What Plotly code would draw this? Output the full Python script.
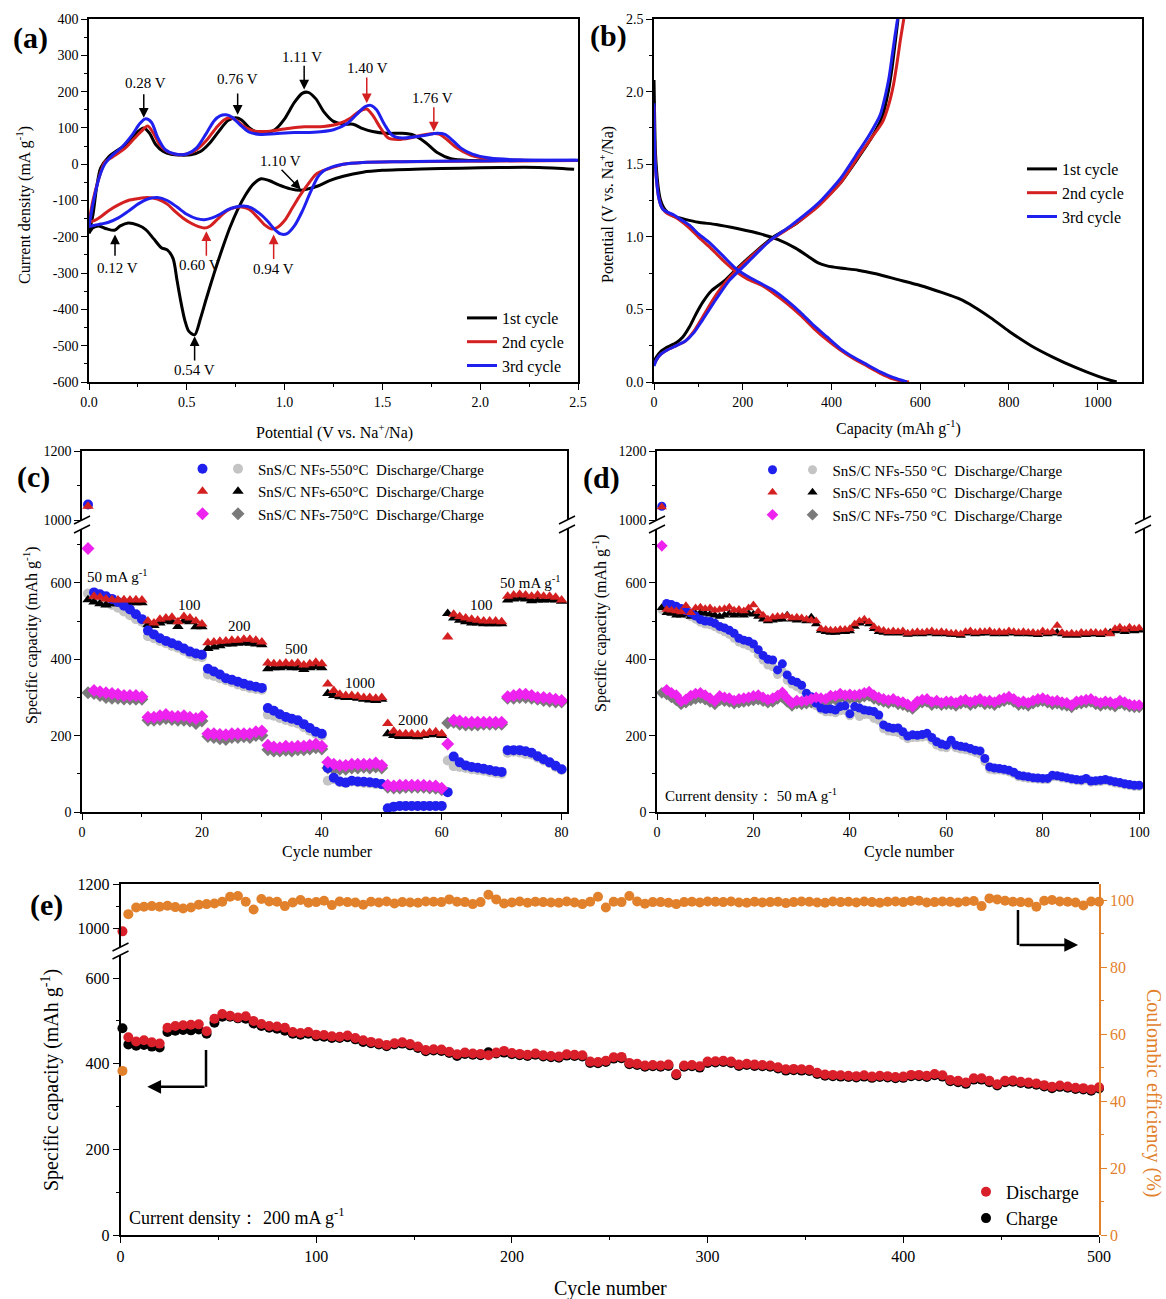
import plotly.graph_objects as go

W, H = 1166, 1299
FONT = "Liberation Serif, Times New Roman, serif"

def px(x):
    return x / W

def py(y):
    return 1 - y / H

# ---------------- (a) CV data ----------------
cv1_cat_v = [2.48, 2.3, 2.1, 1.9, 1.7, 1.5, 1.4, 1.3, 1.23, 1.17, 1.12, 1.08, 1.03, 0.97, 0.92, 0.88, 0.84, 0.8, 0.76, 0.72,
             0.68, 0.64, 0.6, 0.57, 0.54, 0.51, 0.49, 0.47, 0.45, 0.43, 0.4, 0.37, 0.33, 0.29, 0.25, 0.2, 0.16, 0.13, 0.09, 0.05, 0.02, 0.0]
cv1_cat_i = [-14, -9, -9, -11, -13, -17, -22, -33, -45, -60, -68, -72, -68, -57, -45, -40, -55, -85, -125, -175,
             -235, -300, -370, -425, -470, -460, -430, -380, -320, -260, -236, -230, -205, -180, -168, -162, -170, -182, -178, -170, -175, -190]
cv1_an_v = [0.0, 0.02, 0.04, 0.06, 0.1, 0.15, 0.2, 0.25, 0.28, 0.31, 0.34, 0.38, 0.42, 0.47, 0.52, 0.57, 0.62, 0.67, 0.71, 0.75,
            0.78, 0.82, 0.86, 0.9, 0.95, 1.0, 1.05, 1.09, 1.12, 1.16, 1.2, 1.25, 1.3, 1.35, 1.4, 1.45, 1.52, 1.6, 1.66, 1.72,
            1.78, 1.85, 1.95, 2.1, 2.3, 2.5]
cv1_an_i = [-190, -140, -60, -10, 20, 40, 58, 90, 100, 85, 55, 35, 27, 25, 26, 35, 60, 95, 120, 128,
            122, 100, 88, 85, 95, 125, 170, 195, 198, 180, 145, 118, 110, 110, 98, 90, 85, 85, 80, 60,
            32, 15, 10, 10, 10, 10]

cv2_cat_v = [2.5, 2.2, 1.9, 1.6, 1.4, 1.3, 1.24, 1.2, 1.16, 1.12, 1.08, 1.04, 1.0, 0.96, 0.93, 0.9, 0.86, 0.82, 0.78, 0.74,
             0.7, 0.66, 0.62, 0.59, 0.56, 0.52, 0.48, 0.44, 0.4, 0.35, 0.3, 0.25, 0.2, 0.15, 0.1, 0.06, 0.03, 0.0]
cv2_cat_i = [10, 9, 8, 7, 5, 0, -10, -17, -28, -55, -85, -120, -155, -175, -178, -168, -145, -125, -118, -120,
             -130, -150, -170, -176, -172, -162, -148, -130, -110, -96, -92, -95, -100, -112, -128, -145, -155, -160]
cv2_an_v = [0.0, 0.02, 0.05, 0.08, 0.12, 0.18, 0.23, 0.27, 0.3, 0.33, 0.36, 0.4, 0.45, 0.5, 0.55, 0.6, 0.65, 0.69, 0.72, 0.75,
            0.79, 0.84, 0.9, 1.0, 1.1, 1.2, 1.28, 1.34, 1.38, 1.42, 1.45, 1.49, 1.53, 1.58, 1.64, 1.7, 1.75, 1.79, 1.83, 1.88,
            1.95, 2.05, 2.2, 2.5]
cv2_an_i = [-160, -100, -40, 5, 20, 42, 70, 92, 105, 85, 55, 35, 27, 28, 40, 65, 100, 122, 128, 122,
            105, 92, 90, 97, 103, 104, 112, 128, 145, 152, 135, 100, 72, 68, 72, 80, 84, 83, 68, 45,
            25, 14, 11, 10]

cv3_cat_v = [2.5, 2.2, 1.9, 1.6, 1.4, 1.3, 1.24, 1.2, 1.17, 1.13, 1.09, 1.05, 1.01, 0.98, 0.95, 0.91, 0.87, 0.83, 0.79, 0.75,
             0.71, 0.67, 0.63, 0.59, 0.55, 0.5, 0.45, 0.4, 0.35, 0.3, 0.25, 0.2, 0.15, 0.1, 0.06, 0.03, 0.0]
cv3_cat_i = [11, 10, 9, 7, 5, 0, -8, -18, -35, -80, -130, -170, -192, -192, -180, -155, -135, -120, -115, -118,
             -125, -138, -148, -153, -150, -138, -118, -100, -92, -96, -110, -130, -148, -160, -165, -168, -172]
cv3_an_v = [0.0, 0.02, 0.05, 0.08, 0.12, 0.17, 0.22, 0.26, 0.29, 0.32, 0.35, 0.39, 0.44, 0.5, 0.55, 0.6, 0.64, 0.67, 0.7, 0.73,
            0.77, 0.82, 0.88, 0.95, 1.05, 1.15, 1.25, 1.32, 1.37, 1.41, 1.44, 1.47, 1.51, 1.55, 1.6, 1.66, 1.72, 1.78, 1.82, 1.86,
            1.9, 1.96, 2.05, 2.2, 2.5]
cv3_an_i = [-172, -110, -40, 0, 25, 48, 80, 112, 125, 115, 75, 40, 28, 28, 45, 85, 120, 133, 136, 130,
            110, 88, 82, 84, 87, 88, 95, 112, 138, 158, 162, 150, 110, 80, 72, 75, 80, 85, 82, 65,
            45, 28, 17, 12, 11]

# ---------------- (b) charge/discharge profiles ----------------
gc1_dis_cap = [0, 1, 3, 6, 10, 15, 22, 30, 45, 70, 100, 140, 190, 240, 280, 320, 350, 370, 390, 420,
               460, 500, 550, 600, 650, 690, 720, 760, 800, 850, 900, 950, 1000, 1030, 1043]
gc1_dis_v = [2.08, 1.9, 1.6, 1.45, 1.33, 1.25, 1.2, 1.17, 1.14, 1.12, 1.1, 1.085, 1.055, 1.02, 0.98, 0.92, 0.86, 0.82, 0.8, 0.785,
             0.77, 0.745, 0.705, 0.665, 0.615, 0.57, 0.52, 0.44, 0.35, 0.25, 0.17, 0.1, 0.04, 0.01, 0.0]
gc1_chg_cap = [0, 5, 15, 30, 50, 65, 80, 95, 110, 130, 160, 190, 230, 270, 320, 370, 420, 455, 490, 515, 528, 536, 543, 550]
gc1_chg_v = [0.14, 0.17, 0.21, 0.24, 0.27, 0.31, 0.38, 0.47, 0.55, 0.63, 0.7, 0.79, 0.9, 1.0, 1.09, 1.22, 1.37, 1.52, 1.68, 1.83,
             2.0, 2.15, 2.32, 2.5]
gc2_dis_cap = [0, 1, 3, 6, 10, 15, 20, 30, 45, 60, 80, 100, 125, 155, 185, 210, 240, 270, 300, 330,
               360, 390, 420, 450, 480, 510, 540, 560, 575]
gc2_dis_v = [1.9, 1.7, 1.5, 1.38, 1.28, 1.22, 1.19, 1.16, 1.14, 1.11, 1.06, 1.0, 0.93, 0.84, 0.76, 0.71, 0.67, 0.61, 0.54, 0.46,
             0.37, 0.29, 0.22, 0.16, 0.11, 0.06, 0.02, 0.005, 0.0]
gc2_chg_cap = [0, 5, 15, 30, 50, 70, 90, 110, 140, 170, 210, 260, 310, 370, 420, 460, 490, 515, 530, 540, 548, 555, 563]
gc2_chg_v = [0.12, 0.15, 0.19, 0.22, 0.25, 0.28, 0.35, 0.45, 0.6, 0.72, 0.84, 0.97, 1.07, 1.21, 1.37, 1.55, 1.68, 1.79, 1.92, 2.05,
             2.2, 2.35, 2.5]
gc3_dis_cap = [0, 1, 3, 6, 10, 15, 20, 30, 45, 60, 80, 100, 125, 155, 185, 210, 240, 270, 300, 330,
               360, 390, 420, 450, 480, 510, 540, 560, 570]
gc3_dis_v = [1.92, 1.7, 1.5, 1.38, 1.28, 1.22, 1.19, 1.17, 1.15, 1.12, 1.08, 1.02, 0.96, 0.87, 0.78, 0.73, 0.68, 0.63, 0.56, 0.48,
             0.39, 0.31, 0.23, 0.17, 0.12, 0.07, 0.03, 0.01, 0.0]
gc3_chg_cap = [0, 5, 15, 30, 50, 70, 90, 110, 140, 170, 210, 260, 310, 370, 420, 455, 485, 510, 522, 530, 537, 543, 549]
gc3_chg_v = [0.11, 0.15, 0.19, 0.22, 0.25, 0.28, 0.34, 0.43, 0.57, 0.7, 0.82, 0.97, 1.08, 1.23, 1.4, 1.56, 1.7, 1.84, 1.98, 2.1,
             2.25, 2.38, 2.5]

# ---------------- (c) rate performance ----------------
cycles_c = list(range(1, 81))
c_550_dis = [1045, 575, 570, 565, 558, 550, 540, 530, 518, 505,
             475, 465, 455, 448, 442, 436, 428, 420, 415, 412,
             375, 368, 360, 350, 346, 341, 336, 331, 328, 325,
             272, 265, 256, 249, 244, 240, 230, 220, 210, 205,
             115, 90, 80, 77, 82, 80, 79, 78, 76, 73,
             10, 14, 16, 16, 16, 16, 16, 16, 16, 16,
             52, 145, 130, 122, 118, 116, 113, 110, 107, 105,
             162, 162, 162, 159, 155, 146, 138, 130, 121, 112]
c_550_chg = [572, 562, 556, 548, 542, 535, 525, 515, 505, 498,
             460, 455, 448, 442, 435, 430, 422, 414, 408, 405,
             360, 356, 350, 345, 340, 334, 329, 325, 322, 320,
             255, 252, 246, 241, 236, 232, 222, 213, 205, 200,
             82, 86, 78, 76, 80, 78, 76, 75, 73, 72,
             8, 13, 15, 15, 15, 15, 15, 15, 15, 15,
             135, 120, 118, 115, 112, 110, 108, 105, 102, 100,
             155, 158, 156, 152, 150, 142, 135, 128, 118, 110]
c_650_dis = [1040, 565, 562, 558, 556, 555, 556, 555, 556, 555,
             500, 495, 505, 508, 510, 498, 512, 508, 500, 492,
             443, 445, 447, 448, 450, 450, 452, 452, 450, 445,
             390, 388, 388, 390, 388, 390, 385, 388, 392, 388,
             335, 318, 308, 305, 305, 303, 300, 300, 298, 300,
             232, 212, 205, 205, 205, 203, 205, 208, 210, 205,
             458, 518, 512, 508, 505, 502, 500, 500, 500, 498,
             565, 568, 570, 568, 565, 568, 565, 565, 562, 555]
c_650_chg = [556, 550, 545, 542, 545, 545, 545, 548, 548, 548,
             490, 488, 495, 500, 498, 486, 500, 498, 485, 485,
             428, 432, 435, 440, 440, 442, 443, 442, 440, 438,
             375, 378, 378, 380, 378, 378, 373, 378, 380, 378,
             310, 305, 302, 300, 300, 298, 295, 293, 292, 295,
             205, 200, 198, 198, 198, 197, 200, 202, 203, 200,
             520, 508, 502, 498, 495, 495, 493, 493, 493, 493,
             555, 558, 560, 558, 553, 555, 555, 556, 555, 552]
c_750_dis = [690, 318, 315, 312, 310, 308, 305, 305, 305, 302,
             248, 248, 252, 255, 250, 250, 252, 248, 245, 250,
             205, 205, 203, 202, 205, 205, 205, 205, 210, 212,
             175, 170, 168, 172, 170, 172, 172, 175, 178, 172,
             130, 125, 122, 122, 125, 125, 125, 125, 128, 122,
             70, 68, 70, 70, 70, 70, 70, 68, 68, 62,
             178, 240, 238, 235, 235, 235, 235, 235, 235, 235,
             302, 305, 308, 308, 305, 300, 300, 298, 295, 292]
c_750_chg = [312, 310, 305, 300, 298, 298, 296, 296, 295, 295,
             240, 240, 242, 245, 242, 240, 240, 238, 232, 238,
             198, 195, 192, 190, 195, 195, 197, 195, 200, 200,
             163, 160, 160, 162, 160, 163, 163, 165, 168, 165,
             115, 112, 112, 112, 115, 115, 117, 115, 118, 115,
             65, 63, 63, 65, 65, 65, 65, 63, 62, 58,
             233, 235, 230, 228, 228, 228, 230, 230, 230, 230,
             298, 298, 300, 300, 298, 295, 292, 290, 288, 288]
rate_labels = ["50 mA g<sup>-1</sup>", "100", "200", "500", "1000", "2000", "100", "50 mA g<sup>-1</sup>"]
rate_label_x = [5.8, 17.9, 26.3, 35.8, 46.4, 55.2, 66.7, 74.8]
rate_label_y = [617, 543, 486, 427, 339, 241, 543, 602]

# ---------------- (d) cycling at 50 mA/g ----------------
cycles_d = list(range(1, 101))
d_550_dis = [1040, 546, 543, 539, 533, 527, 521, 513, 504, 500,
             499, 494, 486, 482, 476, 468, 455, 450, 447, 440,
             425, 410, 400, 398, 372, 388, 359, 344, 340, 332,
             311, 302, 285, 272, 269, 270, 267, 276, 278, 257,
             276, 272, 267, 265, 263, 254, 228, 222, 219, 220,
             210, 199, 202, 201, 203, 206, 195, 184, 178, 175,
             188, 175, 172, 170, 166, 162, 160, 140, 118, 115,
             114, 112, 109, 104, 96, 94, 92, 90, 89, 88,
             88, 96, 95, 92, 90, 87, 85, 84, 88, 81,
             82, 83, 85, 82, 79, 77, 74, 72, 70, 70]
d_550_chg = [530, 538, 535, 530, 525, 518, 512, 505, 497, 492,
             490, 485, 478, 472, 465, 455, 445, 440, 435, 428,
             412, 398, 385, 380, 360, 368, 345, 335, 328, 320,
             300, 292, 278, 268, 262, 262, 260, 265, 266, 252,
             262, 250, 255, 255, 245, 240, 218, 212, 210, 208,
             200, 192, 195, 195, 196, 198, 188, 175, 170, 168,
             178, 168, 165, 163, 160, 156, 152, 132, 112, 110,
             110, 108, 105, 100, 92, 90, 88, 87, 86, 85,
             85, 92, 92, 89, 87, 84, 82, 81, 84, 78,
             79, 80, 82, 79, 76, 74, 71, 69, 67, 67]
d_650_dis = [1038, 530, 528, 526, 524, 540, 522, 534, 536, 532,
             534, 528, 530, 532, 536, 528, 530, 526, 534, 542,
             525, 515, 505, 510, 512, 512, 514, 508, 510, 508,
             505, 502, 500, 480, 478, 476, 476, 478, 478, 480,
             492, 500, 505, 498, 485, 478, 475, 472, 474, 472,
             474, 468, 470, 472, 470, 472, 474, 470, 472, 470,
             468, 468, 466, 472, 474, 470, 472, 472, 474, 470,
             472, 470, 474, 472, 470, 472, 470, 470, 468, 474,
             470, 472, 488, 470, 466, 468, 466, 470, 468, 470,
             470, 468, 472, 466, 480, 484, 478, 484, 480, 482]
d_650_chg = [535, 522, 520, 515, 515, 518, 512, 520, 522, 520,
             518, 515, 512, 515, 520, 515, 518, 515, 520, 518,
             512, 505, 500, 502, 505, 505, 515, 505, 502, 505,
             500, 510, 492, 475, 472, 470, 470, 472, 472, 474,
             486, 494, 498, 492, 480, 472, 470, 468, 470, 468,
             470, 465, 466, 468, 466, 468, 470, 466, 468, 466,
             465, 464, 462, 468, 470, 466, 468, 468, 470, 466,
             468, 466, 470, 468, 466, 468, 466, 466, 464, 470,
             466, 468, 470, 466, 462, 464, 462, 466, 464, 466,
             466, 464, 468, 470, 474, 476, 472, 476, 474, 476]
d_750_dis = [697, 320, 312, 306, 290, 295, 305, 310, 312, 306,
             298, 290, 304, 300, 298, 292, 296, 298, 300, 304,
             306, 300, 294, 298, 305, 313, 298, 285, 292, 290,
             292, 296, 300, 298, 296, 305, 304, 310, 306, 308,
             306, 308, 312, 315, 306, 300, 296, 293, 296, 290,
             288, 282, 276, 290, 294, 296, 288, 292, 286, 290,
             290, 286, 292, 294, 288, 292, 296, 290, 292, 288,
             294, 298, 302, 296, 288, 290, 286, 292, 296, 298,
             294, 290, 292, 288, 286, 280, 290, 292, 294, 296,
             290, 286, 290, 288, 284, 292, 288, 282, 280, 280]
d_750_chg = [312, 308, 300, 292, 282, 286, 292, 296, 298, 294,
             288, 282, 292, 290, 288, 284, 286, 288, 290, 292,
             294, 290, 286, 288, 296, 300, 288, 278, 284, 282,
             284, 286, 290, 288, 286, 294, 294, 300, 298, 298,
             296, 298, 302, 304, 296, 292, 288, 285, 288, 282,
             280, 275, 270, 282, 286, 288, 280, 284, 280, 282,
             282, 278, 284, 286, 280, 284, 288, 282, 284, 280,
             286, 290, 294, 288, 280, 282, 278, 284, 288, 290,
             286, 282, 284, 280, 278, 274, 282, 284, 286, 288,
             282, 278, 282, 280, 276, 284, 280, 276, 274, 274]

# ---------------- (e) long cycling at 200 mA/g ----------------
cycles_e = [1] + list(range(4, 501, 4))
e_dis = [985,
         462, 452, 455, 450, 447, 484, 488, 490, 491, 492,
         476, 505, 516, 512, 508, 511, 500, 493, 488, 487,
         484, 474, 472, 474, 468, 467, 464, 463, 466, 460,
         455, 451, 448, 444, 448, 450, 446, 440, 432, 434,
         433, 428, 422, 426, 424, 423, 420, 426, 430, 425,
         423, 421, 424, 420, 418, 417, 422, 421, 420, 405,
         404, 407, 415, 416, 402, 400, 396, 397, 396, 398,
         376, 396, 397, 394, 405, 406, 407, 405, 398, 400,
         398, 397, 396, 392, 387, 388, 387, 386, 379, 375,
         374, 373, 372, 371, 373, 370, 372, 371, 369, 370,
         374, 374, 372, 376, 373, 362, 360, 356, 366, 366,
         360, 352, 360, 361, 358, 356, 354, 350, 346, 349,
         347, 344, 343, 340, 345]
e_chg = [483,
         445, 442, 444, 440, 438, 474, 477, 479, 478, 480,
         470, 496, 510, 510, 506, 505, 494, 488, 484, 482,
         477, 470, 468, 470, 464, 463, 460, 460, 462, 457,
         451, 448, 445, 441, 445, 447, 443, 437, 429, 431,
         430, 425, 418, 423, 421, 420, 427, 424, 426, 422,
         420, 418, 421, 417, 415, 414, 419, 418, 417, 402,
         401, 404, 412, 413, 399, 397, 393, 394, 393, 395,
         373, 393, 394, 391, 402, 403, 404, 402, 395, 397,
         395, 394, 393, 389, 384, 385, 384, 383, 376, 372,
         371, 370, 369, 368, 370, 367, 369, 368, 366, 367,
         371, 371, 369, 373, 370, 359, 357, 353, 363, 363,
         357, 349, 357, 358, 355, 353, 351, 347, 343, 346,
         344, 341, 340, 337, 342]
e_ce = [49,
        95.8, 97.8, 98.0, 98.2, 98.0, 98.3, 97.9, 97.5, 97.8, 98.6,
        98.8, 99.0, 99.5, 101.0, 101.2, 99.5, 97.2, 100.3, 99.6, 99.5,
        98.2, 99.3, 100.0, 99.2, 99.4, 99.8, 98.5, 99.6, 99.4, 99.3,
        98.6, 99.5, 99.3, 99.6, 99.0, 99.4, 99.3, 99.2, 99.6, 99.5,
        99.4, 100.2, 99.5, 99.4, 98.8, 99.4, 101.6, 100.2, 99.0, 99.3,
        99.6, 99.2, 99.5, 99.4, 99.3, 99.2, 99.6, 99.3, 98.8, 99.5,
        101.0, 97.8, 99.5, 99.4, 101.2, 99.6, 98.9, 99.4, 99.4, 99.2,
        98.8, 99.4, 99.5, 99.3, 99.6, 99.5, 99.4, 99.6, 99.3, 99.2,
        99.5, 99.3, 99.4, 99.5, 99.1, 99.4, 99.6, 99.5, 99.3, 99.2,
        99.6, 99.4, 99.5, 99.3, 99.6, 99.4, 99.2, 99.5, 99.6, 99.4,
        99.7, 99.8, 99.3, 99.4, 99.6, 99.5, 99.3, 99.6, 99.7, 98.2,
        100.5, 100.2, 99.8, 99.5, 99.4, 99.3, 98.0, 99.8, 100.0, 99.6,
        99.5, 99.3, 98.4, 99.6, 99.5]

# ---------------- colours ----------------
C_BLACK = "#000000"
C_RED = "#D42020"
C_BLUE = "#2020EE"
C_GRAYC = "#C4C4C4"
C_MAG = "#EE22EE"
C_GRAYD = "#7A7A7A"
C_ORANGE = "#E2812C"
C_RED_E = "#D9202A"

fig = go.Figure()

# ---- (a)
for name, col, cv, ci, av, ai in [
    ("1st cycle", C_BLACK, cv1_cat_v, cv1_cat_i, cv1_an_v, cv1_an_i),
    ("2nd cycle", C_RED, cv2_cat_v, cv2_cat_i, cv2_an_v, cv2_an_i),
    ("3rd cycle", C_BLUE, cv3_cat_v, cv3_cat_i, cv3_an_v, cv3_an_i),
]:
    fig.add_trace(go.Scatter(x=cv + av, y=ci + ai, mode="lines", name=name,
                             line=dict(color=col, width=3, shape="spline", smoothing=0.8),
                             xaxis="x", yaxis="y", legend="legend"))

# ---- (b)
for name, col, dc, dv, cc, cvv in [
    ("1st cycle", C_BLACK, gc1_dis_cap, gc1_dis_v, gc1_chg_cap, gc1_chg_v),
    ("2nd cycle", C_RED, gc2_dis_cap, gc2_dis_v, gc2_chg_cap, gc2_chg_v),
    ("3rd cycle", C_BLUE, gc3_dis_cap, gc3_dis_v, gc3_chg_cap, gc3_chg_v),
]:
    fig.add_trace(go.Scatter(x=dc + [None] + cc, y=dv + [None] + cvv, mode="lines", name=name,
                             line=dict(color=col, width=3, shape="spline", smoothing=0.6),
                             connectgaps=False, xaxis="x2", yaxis="y2", legend="legend2"))


def add_split(cycles, values, color, symbol, size, xl, yl, xu, yu, legend, name):
    low = [v if v < 900 else None for v in values]
    up = [v if v >= 900 else None for v in values]
    fig.add_trace(go.Scatter(x=cycles, y=low, mode="markers", name=name, legend=legend,
                             marker=dict(color=color, symbol=symbol, size=size, line=dict(width=0)),
                             cliponaxis=False, xaxis=xl, yaxis=yl))
    if any(v is not None for v in up):
        fig.add_trace(go.Scatter(x=cycles, y=up, mode="markers", showlegend=False,
                                 marker=dict(color=color, symbol=symbol, size=size, line=dict(width=0)),
                                 cliponaxis=False, xaxis=xu, yaxis=yu))


# ---- (c)
add_split(cycles_c, c_550_chg, C_GRAYC, "circle", 10, "x3", "y3", "x4", "y4", "legend4", "SnS/C NFs-550\u00b0C  Discharge/Charge")
add_split(cycles_c, c_650_chg, C_BLACK, "triangle-up", 10, "x3", "y3", "x4", "y4", "legend4", "SnS/C NFs-650\u00b0C  Discharge/Charge")
add_split(cycles_c, c_750_chg, C_GRAYD, "diamond", 10, "x3", "y3", "x4", "y4", "legend4", "SnS/C NFs-750\u00b0C  Discharge/Charge")
add_split(cycles_c, c_550_dis, C_BLUE, "circle", 10, "x3", "y3", "x4", "y4", "legend3", " ")
add_split(cycles_c, c_650_dis, C_RED, "triangle-up", 10, "x3", "y3", "x4", "y4", "legend3", " ")
add_split(cycles_c, c_750_dis, C_MAG, "diamond", 10, "x3", "y3", "x4", "y4", "legend3", " ")

# ---- (d)
add_split(cycles_d, d_550_chg, C_GRAYC, "circle", 9, "x5", "y5", "x6", "y6", "legend6", "SnS/C NFs-550 \u00b0C  Discharge/Charge")
add_split(cycles_d, d_650_chg, C_BLACK, "triangle-up", 9, "x5", "y5", "x6", "y6", "legend6", "SnS/C NFs-650 \u00b0C  Discharge/Charge")
add_split(cycles_d, d_750_chg, C_GRAYD, "diamond", 9, "x5", "y5", "x6", "y6", "legend6", "SnS/C NFs-750 \u00b0C  Discharge/Charge")
add_split(cycles_d, d_550_dis, C_BLUE, "circle", 9, "x5", "y5", "x6", "y6", "legend5", " ")
add_split(cycles_d, d_650_dis, C_RED, "triangle-up", 9, "x5", "y5", "x6", "y6", "legend5", " ")
add_split(cycles_d, d_750_dis, C_MAG, "diamond", 9, "x5", "y5", "x6", "y6", "legend5", " ")

# ---- (e)
fig.add_trace(go.Scatter(x=cycles_e, y=e_ce, mode="markers", showlegend=False,
                         marker=dict(color=C_ORANGE, size=10), cliponaxis=False, xaxis="x7", yaxis="y9"))
fig.add_trace(go.Scatter(x=cycles_e, y=e_chg, mode="markers", name="Charge", legend="legend7",
                         marker=dict(color=C_BLACK, size=10), cliponaxis=False, xaxis="x7", yaxis="y7"))
e_dis_low = [v if v < 900 else None for v in e_dis]
e_dis_up = [v if v >= 900 else None for v in e_dis]
fig.add_trace(go.Scatter(x=cycles_e, y=e_dis_low, mode="markers", name="Discharge", legend="legend7",
                         marker=dict(color=C_RED_E, size=10), cliponaxis=False, xaxis="x7", yaxis="y7"))
fig.add_trace(go.Scatter(x=cycles_e, y=e_dis_up, mode="markers", showlegend=False,
                         marker=dict(color=C_RED_E, size=10), cliponaxis=False, xaxis="x8", yaxis="y8"))

# ---------------- axes ----------------
def ax(size=14, color="black", **kw):
    d = dict(showline=True, linecolor=color, linewidth=1.5, ticks="outside", ticklen=6, tickwidth=1.3,
             tickcolor=color, showgrid=False, zeroline=False, automargin=False,
             tickfont=dict(family=FONT, size=size, color=color))
    d.update(kw)
    return d


def topax(dom, rng, anchor):
    return dict(domain=dom, range=rng, anchor=anchor, side="top", showline=True, automargin=False,
                linecolor="black", linewidth=1.5, ticks="", showticklabels=False, showgrid=False, zeroline=False)


def minor(vals, color="black"):
    return dict(ticks="outside", ticklen=3, tickwidth=1, tickcolor=color, tickvals=vals, showgrid=False)


def hyph(vals):
    return [str(v) for v in vals]


def leg(x, y, size):
    return dict(x=px(x), y=py(y), xanchor="left", yanchor="top", bgcolor="rgba(0,0,0,0)",
                font=dict(family=FONT, size=size, color="black"), tracegroupgap=0)

ya_vals = list(range(-600, 401, 100))
layout = dict(
    width=W, height=H, margin=dict(l=0, r=0, t=0, b=0, autoexpand=False),
    paper_bgcolor="white", plot_bgcolor="rgba(0,0,0,0)",
    font=dict(family=FONT, color="black"),
    # (a)
    xaxis=ax(domain=[px(89), px(578)], range=[0, 2.5], tickvals=[0, 0.5, 1.0, 1.5, 2.0, 2.5],
             ticktext=["0.0", "0.5", "1.0", "1.5", "2.0", "2.5"], minor=minor([0.25, 0.75, 1.25, 1.75, 2.25]),
             anchor="y", mirror=True),
    yaxis=ax(domain=[py(382), py(19)], range=[-600, 400], tickvals=ya_vals, ticktext=hyph(ya_vals),
             minor=minor(list(range(-550, 400, 100))), anchor="x", mirror=True),
    # (b)
    xaxis2=ax(domain=[px(654), px(1142)], range=[0, 1100], tickvals=[0, 200, 400, 600, 800, 1000],
              minor=minor([100, 300, 500, 700, 900]), anchor="y2", mirror=True),
    yaxis2=ax(domain=[py(382), py(19)], range=[0, 2.5], tickvals=[0, 0.5, 1.0, 1.5, 2.0, 2.5],
              ticktext=["0.0", "0.5", "1.0", "1.5", "2.0", "2.5"], minor=minor([0.25, 0.75, 1.25, 1.75, 2.25]),
              anchor="x2", mirror=True),
    # (c)
    xaxis3=ax(domain=[px(82), px(567)], range=[0, 80.9], tickvals=[0, 20, 40, 60, 80],
              minor=minor([10, 30, 50, 70]), anchor="y3"),
    yaxis3=ax(domain=[py(812), py(529)], range=[0, 741], tickvals=[0, 200, 400, 600],
              minor=minor([100, 300, 500, 700]), anchor="x3", mirror=True),
    xaxis4=topax([px(82), px(567)], [0, 80.9], "y4"),
    yaxis4=ax(domain=[py(520), py(451)], range=[1000, 1200], tickvals=[1000, 1200],
              minor=minor([1100]), anchor="x4", mirror=True),
    # (d)
    xaxis5=ax(domain=[px(657), px(1143)], range=[0, 100.8], tickvals=[0, 20, 40, 60, 80, 100],
              minor=minor([10, 30, 50, 70, 90]), anchor="y5"),
    yaxis5=ax(domain=[py(812), py(529)], range=[0, 741], tickvals=[0, 200, 400, 600],
              minor=minor([100, 300, 500, 700]), anchor="x5", mirror=True),
    xaxis6=topax([px(657), px(1143)], [0, 100.8], "y6"),
    yaxis6=ax(domain=[py(520), py(451)], range=[1000, 1200], tickvals=[1000, 1200],
              minor=minor([1100]), anchor="x6", mirror=True),
    # (e)
    xaxis7=ax(size=16, domain=[px(120.5), px(1099)], range=[0, 500], tickvals=[0, 100, 200, 300, 400, 500],
              minor=minor([50, 150, 250, 350, 450]), anchor="y7"),
    yaxis7=ax(size=16, domain=[py(1235), py(955)], range=[0, 654], tickvals=[0, 200, 400, 600],
              minor=minor([100, 300, 500]), anchor="x7"),
    xaxis8=topax([px(120.5), px(1099)], [0, 500], "y8"),
    yaxis8=ax(size=16, domain=[py(947), py(884)], range=[914, 1200], tickvals=[1000, 1200],
              ticktext=["1000", "1200"], minor=minor([1100]), anchor="x8"),
    yaxis9=ax(size=16, color=C_ORANGE, domain=[py(1235), py(884)], range=[0, 104.8],
              tickvals=[0, 20, 40, 60, 80, 100], minor=minor([10, 30, 50, 70, 90], C_ORANGE),
              anchor="x7", side="right"),
    # legends
    legend=leg(462, 301, 16),
    legend2=leg(1022, 152, 16),
    legend3=leg(182.5, 452.5, 15),
    legend4=leg(218, 452.5, 15),
    legend5=leg(752.5, 453.5, 15),
    legend6=leg(792.5, 453.5, 15),
    legend7=dict(leg(966, 1173.5, 18), traceorder="reversed"),
)
fig.update_layout(**layout)

# ---------------- annotations ----------------
ann = []

def ptext(x, y, text, size=16, angle=0, color="black", bold=False, xanchor="center"):
    t = f"<b>{text}</b>" if bold else text
    ann.append(dict(x=px(x), y=py(y), xref="paper", yref="paper", text=t, showarrow=False,
                    textangle=angle, xanchor=xanchor, yanchor="middle",
                    font=dict(family=FONT, size=size, color=color)))

# panel labels
ptext(30, 38, "(a)", 30, bold=True)
ptext(608, 36, "(b)", 30, bold=True)
ptext(33, 477, "(c)", 30, bold=True)
ptext(601, 478, "(d)", 30, bold=True)
ptext(46, 905, "(e)", 30, bold=True)

# axis titles
ptext(24, 205, "Current density (mA g<sup>-1</sup>)", 16, angle=-90)
ptext(334, 432, "Potential (V vs. Na<sup>+</sup>/Na)", 16)
ptext(607, 205, "Potential (V vs. Na<sup>+</sup>/Na)", 16, angle=-90)
ptext(899, 427, "Capacity (mAh g<sup>-1</sup>)", 16)
ptext(30, 635, "Specific capacity (mAh g<sup>-1</sup>)", 16, angle=-90)
ptext(327, 852, "Cycle number", 16)
ptext(600, 623, "Specific capacity (mAh g<sup>-1</sup>)", 16, angle=-90)
ptext(909, 852, "Cycle number", 16)
ptext(50, 1080, "Specific capacity (mAh g<sup>-1</sup>)", 20, angle=-90)
ptext(610, 1288, "Cycle number", 20)
ptext(1154, 1093, "Coulombic efficiency (%)", 20, angle=90, color=C_ORANGE)

# (a) peak labels and arrows
peak_labels = [("0.28 V", 0.289, 225), ("0.76 V", 0.76, 235), ("1.11 V", 1.087, 294), ("1.40 V", 1.426, 264),
               ("1.76 V", 1.758, 183), ("1.10 V", 0.977, 9), ("0.12 V", 0.145, -286), ("0.60 V", 0.563, -277),
               ("0.94 V", 0.944, -289), ("0.54 V", 0.54, -566)]
for t, x, y in peak_labels:
    ann.append(dict(x=x, y=y, xref="x", yref="y", text=t, showarrow=False,
                    font=dict(family=FONT, size=15, color="black")))
# arrows: (head_x, head_y, tail_x, tail_y, colour)
peak_arrows = [(0.28, 128, 0.28, 197, C_BLACK), (0.76, 136, 0.76, 199, C_BLACK), (1.10, 206, 1.10, 275, C_BLACK),
               (1.42, 168, 1.42, 243, C_RED), (1.763, 90, 1.763, 161, C_RED), (1.083, -70, 0.977, -11, C_BLACK),
               (0.133, -194, 0.133, -256, C_BLACK), (0.60, -185, 0.60, -256, C_RED),
               (0.944, -194, 0.944, -265, C_RED), (0.54, -474, 0.54, -545, C_BLACK)]
for hx, hy, tx, tyy, col in peak_arrows:
    ann.append(dict(x=hx, y=hy, ax=tx, ay=tyy, xref="x", yref="y", axref="x", ayref="y", text="",
                    showarrow=True, arrowhead=2, arrowsize=1.3, arrowwidth=1.5, arrowcolor=col))

# (c) rate labels
for t, x, y in zip(rate_labels, rate_label_x, rate_label_y):
    ann.append(dict(x=x, y=y, xref="x3", yref="y3", text=t, showarrow=False,
                    font=dict(family=FONT, size=15, color="black")))

# (d), (e) current density
ann.append(dict(x=1.2, y=44, xref="x5", yref="y5", text="Current density\uff1a 50 mA g<sup>-1</sup>",
                showarrow=False, xanchor="left", font=dict(family=FONT, size=15, color="black")))
ann.append(dict(x=3.5, y=44, xref="x7", yref="y7", text="Current density\uff1a 200 mA g<sup>-1</sup>",
                showarrow=False, xanchor="left", font=dict(family=FONT, size=18, color="black")))

# (e) arrows
ann.append(dict(x=13.7, y=346, ax=43.7, ay=346, xref="x7", yref="y7", axref="x7", ayref="y7", text="",
                showarrow=True, arrowhead=2, arrowsize=1.1, arrowwidth=2.5, arrowcolor="black"))
ann.append(dict(x=489.3, y=86.6, ax=458.6, ay=86.6, xref="x7", yref="y9", axref="x7", ayref="y9", text="",
                showarrow=True, arrowhead=2, arrowsize=1.1, arrowwidth=2.5, arrowcolor="black"))

fig.update_layout(annotations=ann)

# ---------------- shapes ----------------
shapes = [
    dict(type="line", x0=43.7, x1=43.7, y0=432, y1=346, xref="x7", yref="y7", line=dict(color="black", width=2.5)),
    dict(type="line", x0=458.6, x1=458.6, y0=97, y1=86.6, xref="x7", yref="y9", line=dict(color="black", width=2.5)),
]

def brk(X, y_top, y_bot):
    for Y in (y_top, y_bot):
        shapes.append(dict(type="line", xref="paper", yref="paper",
                           x0=px(X - 8), y0=py(Y + 4), x1=px(X + 8), y1=py(Y - 4),
                           line=dict(color="black", width=1.5)))

brk(82, 520, 529)
brk(567, 520, 529)
brk(657, 520, 529)
brk(1143, 520, 529)
brk(120.5, 947, 955)
fig.update_layout(shapes=shapes)

fig.write_html("out.html", config={"displayModeBar": False},
               post_script="document.body.style.margin='0px';document.body.style.padding='0px';document.body.style.overflow='hidden';")
